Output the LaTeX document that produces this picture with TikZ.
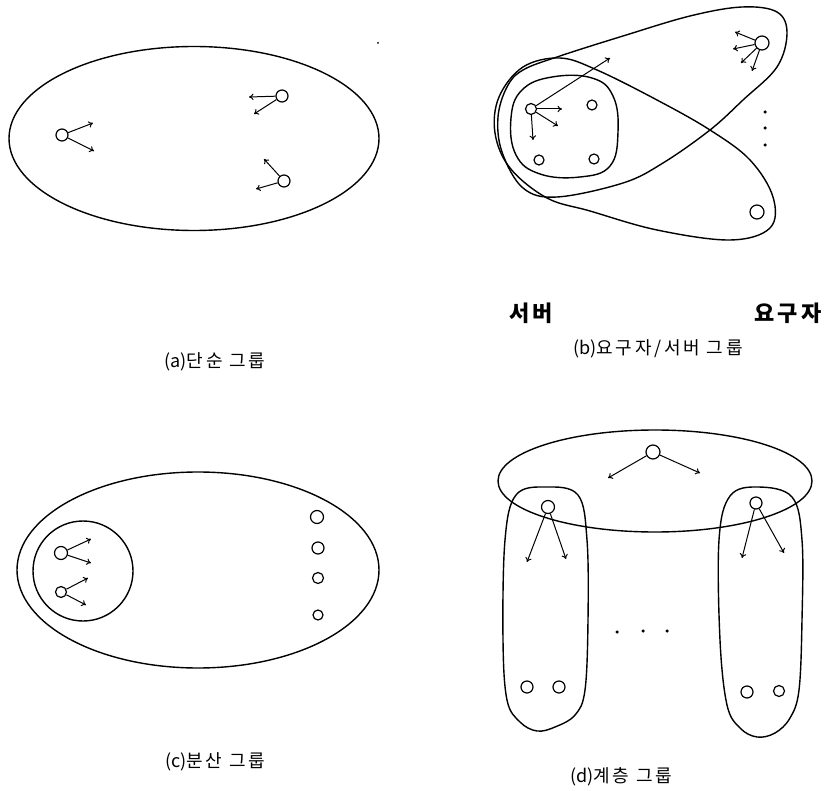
\documentclass[tikz,border=0pt]{standalone}
\usepackage{fontspec}
\newfontfamily\kr{Noto Sans CJK KR}
\newfontfamily\krcap[LetterSpace=15]{Noto Sans CJK KR}
\newfontfamily\krrole[LetterSpace=14]{Noto Sans CJK KR}
\usetikzlibrary{arrows.meta}
\tikzset{
  outline/.style={line width=1.4pt, line join=round},
  member/.style={circle, draw, line width=1.2pt, minimum size=12pt, inner sep=0pt},
  arr/.style={line width=1pt, -{To[length=4.5pt,width=6.5pt]}},
  caption/.style={font=\krcap\fontsize{18}{21}\selectfont},
  rolelabel/.style={font=\krrole\bfseries\fontsize{22}{25}\selectfont},
  dotmark/.style={circle, fill, inner sep=0pt, minimum size=3.5pt}
}
\begin{document}
\begin{tikzpicture}[x=1pt,y=-1pt]
\useasboundingbox (0,0) rectangle (830,791);

% ---------------- (a) simple group
\draw[outline] (194,138.5) ellipse [x radius=185, y radius=92];
\node[member] (a1) at (62,135) {};
\node[member] (a2) at (282,96) {};
\node[member] (a3) at (284,181) {};
\coordinate (a1e1) at (93,123);
\coordinate (a1e2) at (94,151);
\coordinate (a2e1) at (249,97);
\coordinate (a2e2) at (254,114);
\coordinate (a3e1) at (264,159);
\coordinate (a3e2) at (256,189);
\draw[arr] (a1) -- (a1e1);
\draw[arr] (a1) -- (a1e2);
\draw[arr] (a2) -- (a2e1);
\draw[arr] (a2) -- (a2e2);
\draw[arr] (a3) -- (a3e1);
\draw[arr] (a3) -- (a3e2);
\node[circle, fill, inner sep=0pt, minimum size=2pt] (speck) at (378,43) {};
\node[caption] (capa) at (215,362) {{\kr(a)}단순 그룹};

% ---------------- (b) requester / server group
% requester oval
\draw[outline] plot[smooth cycle, tension=0.6] coordinates {
 (523,70) (560,56) (623,36) (690,16) (742,7) (777,12) (787,33) (777,67)
 (743,100) (710,130) (663,163) (623,183) (557,197) (523,188) (502,152)
 (498,117) (507,87)};
% server oval
\draw[outline] plot[smooth cycle, tension=0.6] coordinates {
 (560,58) (597,70) (657,100) (710,130) (750,160) (773,197) (770,228)
 (730,240) (657,230) (590,211) (547,198) (510,168) (495,133) (499,97)
 (523,67)};
% inner server group
\draw[outline] plot[smooth cycle, tension=0.7] coordinates {
 (511,118) (522,90) (552,77) (592,78) (613,96) (618,132) (610,166)
 (580,177) (540,174) (516,155)};
\node[member, minimum size=11pt] (bs) at (531,109) {};
\node[member, minimum size=10pt] (bs2) at (592,105) {};
\node[member, minimum size=10pt] (bs3) at (539,160) {};
\node[member, minimum size=10pt] (bs4) at (594,159) {};
\coordinate (bse1) at (610,58);
\coordinate (bse2) at (562,109);
\coordinate (bse3) at (558,126);
\coordinate (bse4) at (533,140);
\draw[arr] (bs) -- (bse1);
\draw[arr] (bs) -- (bse2);
\draw[arr] (bs) -- (bse3);
\draw[arr] (bs) -- (bse4);
\node[member, minimum size=14pt] (br) at (762,43) {};
\coordinate (bre1) at (735,32);
\coordinate (bre2) at (733,49);
\coordinate (bre3) at (741,63);
\coordinate (bre4) at (752,71);
\draw[arr] (br) -- (bre1);
\draw[arr] (br) -- (bre2);
\draw[arr] (br) -- (bre3);
\draw[arr] (br) -- (bre4);
\node[member, minimum size=14pt] (br2) at (757,212) {};
\node[dotmark] (bd1) at (765,112) {};
\node[dotmark] (bd2) at (765,128) {};
\node[dotmark] (bd3) at (765,145) {};
\node[rolelabel] (server) at (531,313) {서버};
\node[rolelabel] (requester) at (788,313) {요구자};
\node[caption] (capb) at (658,349) {{\kr(b)}요구자/서버 그룹};

% ---------------- (c) distributed group
\draw[outline] (198,570) ellipse [x radius=181, y radius=98];
\draw[outline] (83,571) circle [radius=50];
\node[member, minimum size=13pt] (c1) at (61,553) {};
\node[member, minimum size=11pt] (c2) at (61,592) {};
\coordinate (c1e1) at (91,539);
\coordinate (c1e2) at (91,563);
\coordinate (c2e1) at (88,578);
\coordinate (c2e2) at (86,605);
\draw[arr] (c1) -- (c1e1);
\draw[arr] (c1) -- (c1e2);
\draw[arr] (c2) -- (c2e1);
\draw[arr] (c2) -- (c2e2);
\node[member, minimum size=13pt] (c3) at (317,517) {};
\node[member, minimum size=12pt] (c4) at (318,548) {};
\node[member, minimum size=11pt] (c5) at (318,578) {};
\node[member, minimum size=10pt] (c6) at (318,615) {};
\node[caption] (capc) at (215,762) {{\kr(c)}분산 그룹};

% ---------------- (d) hierarchical group
\draw[outline] (655,481) ellipse [x radius=157, y radius=51];
\draw[outline] plot[smooth cycle, tension=0.6] coordinates {
 (546,487) (578,495) (587,540) (588,620) (585,690) (575,715) (555,727)
 (537,731) (520,722) (507,700) (503,640) (505,540) (516,495)};
\draw[outline] plot[smooth cycle, tension=0.6] coordinates {
 (758,487) (792,497) (802,540) (802,620) (799,690) (790,718) (775,733)
 (757,737) (740,728) (727,705) (720,640) (719,540) (730,496)};
\node[member, minimum size=14pt] (dtop) at (653,452) {};
\coordinate (dte1) at (608,478);
\coordinate (dte2) at (700,473);
\draw[arr] (dtop) -- (dte1);
\draw[arr] (dtop) -- (dte2);
\node[member, minimum size=13pt] (dl) at (548,507) {};
\coordinate (dle1) at (527,562);
\coordinate (dle2) at (566,559);
\draw[arr] (dl) -- (dle1);
\draw[arr] (dl) -- (dle2);
\node[member, minimum size=12pt] (dr) at (756,503) {};
\coordinate (dre1) at (742,558);
\coordinate (dre2) at (784,553);
\draw[arr] (dr) -- (dre1);
\draw[arr] (dr) -- (dre2);
\node[dotmark] (dd1) at (617,632) {};
\node[dotmark] (dd2) at (643,631) {};
\node[dotmark] (dd3) at (667,631) {};
\node[member, minimum size=12pt] (dl1) at (527,687) {};
\node[member, minimum size=12pt] (dl2) at (559,687) {};
\node[member, minimum size=12pt] (dr1) at (747,692) {};
\node[member, minimum size=11pt] (dr2) at (779,691) {};
\node[caption] (capd) at (621,777) {{\kr(d)}계층 그룹};
\end{tikzpicture}
\end{document}
